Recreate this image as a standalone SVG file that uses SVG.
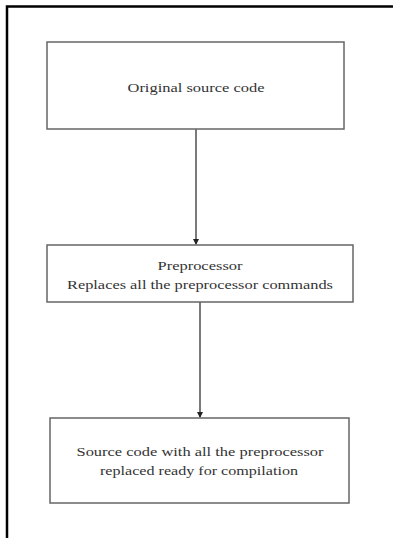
<svg xmlns="http://www.w3.org/2000/svg" width="393" height="538" viewBox="0 0 393 538">
<style>
.box{fill:#fff;stroke:#666;stroke-width:1.5}
.t{font-family:"Liberation Serif","Times New Roman",serif;font-size:13px;fill:#333;text-anchor:middle}
.c{stroke:#333;stroke-width:1.3;fill:none}
</style>
<defs>
<marker id="ah" markerWidth="6" markerHeight="6" refX="5" refY="3" orient="auto" markerUnits="userSpaceOnUse">
<path d="M0,0 L6,3 L0,6 Z" fill="#222"/>
</marker>
</defs>
<rect width="393" height="538" fill="#fff"/>
<g id="frame"><path d="M7,538 V6.5 H393" fill="none" stroke="#000" stroke-width="2.5"/></g>
<g id="connectors">
<line class="c" x1="196" y1="129" x2="196" y2="244" marker-end="url(#ah)"/>
<line class="c" x1="200" y1="302" x2="200" y2="417" marker-end="url(#ah)"/>
</g>
<g id="n1">
<rect class="box" x="47" y="42" width="297" height="87"/>
<text class="t" x="196" y="92" textLength="137" lengthAdjust="spacingAndGlyphs">Original source code</text>
</g>
<g id="n2">
<rect class="box" x="47" y="245" width="306" height="57"/>
<text class="t" x="200" y="270" textLength="85" lengthAdjust="spacingAndGlyphs">Preprocessor</text>
<text class="t" x="200" y="289" textLength="266" lengthAdjust="spacingAndGlyphs">Replaces all the preprocessor commands</text>
</g>
<g id="n3">
<rect class="box" x="50" y="418" width="299" height="85"/>
<text class="t" x="200" y="456" textLength="247" lengthAdjust="spacingAndGlyphs">Source code with all the preprocessor</text>
<text class="t" x="199" y="475" textLength="198" lengthAdjust="spacingAndGlyphs">replaced ready for compilation</text>
</g>
</svg>
